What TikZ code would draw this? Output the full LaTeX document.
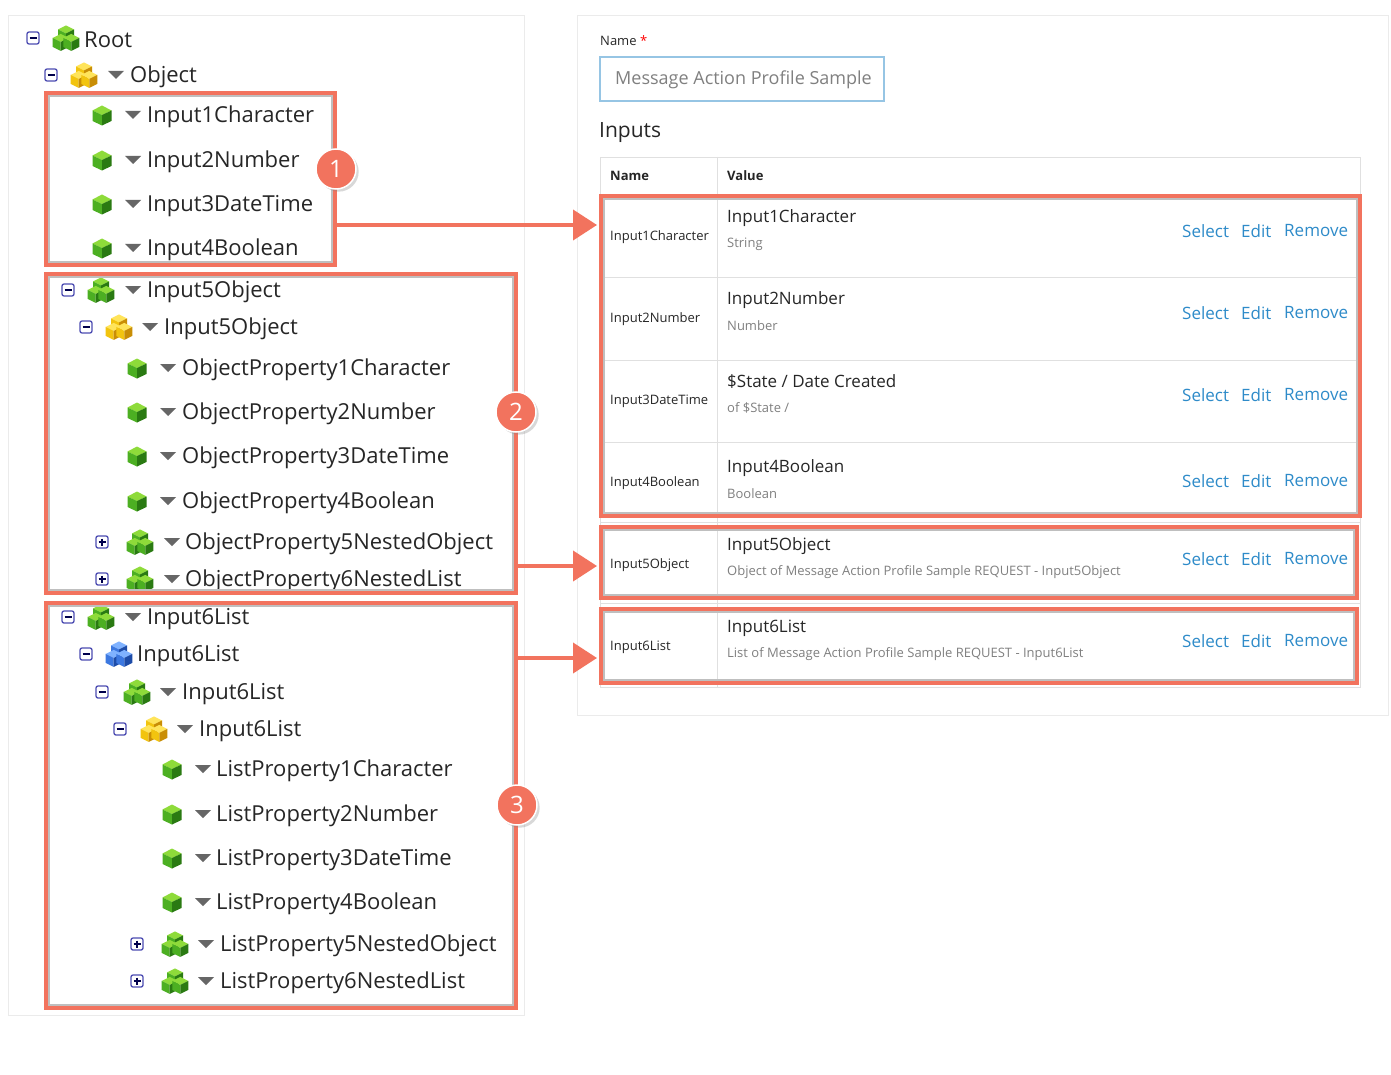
\documentclass[tikz,border=0pt]{standalone}
\usepackage{fontspec}
\setmainfont{Open Sans}
\usetikzlibrary{arrows.meta,shadows}
\definecolor{hl}{HTML}{F2735E}
\definecolor{lnk}{HTML}{2E8BC9}
\definecolor{gtop}{HTML}{8EDB3A}
\definecolor{gl}{HTML}{4CAF22}
\definecolor{gr}{HTML}{2A7A12}
\definecolor{ytop}{HTML}{FFE45A}
\definecolor{yl}{HTML}{F2C40F}
\definecolor{yr}{HTML}{C98E05}
\definecolor{btop}{HTML}{7FB2FF}
\definecolor{bl}{HTML}{3C78E0}
\definecolor{br}{HTML}{1D4CA8}
\tikzset{
 x=1pt,y=-1pt,
 cube/.pic={\fill[#1top] (-8,-4)--(0,-8)--(8,-4)--(0,0)--cycle;
   \fill[#1l] (-8,-4)--(0,0)--(0,9)--(-8,5)--cycle;
   \fill[#1r] (8,-4)--(0,0)--(0,9)--(8,5)--cycle;},
 bigcube/.pic={\fill[#1top] (-9.5,-4.5)--(0,-9.5)--(9.5,-4.5)--(0,0)--cycle;
   \fill[#1l] (-9.5,-4.5)--(0,0)--(0,10.5)--(-9.5,6)--cycle;
   \fill[#1r] (9.5,-4.5)--(0,0)--(0,10.5)--(9.5,6)--cycle;},
 cluster/.pic={\begin{scope}[scale=0.66]
   \pic at (0,-7) {cube=#1};\pic at (-8,6) {cube=#1};\pic at (8,6) {cube=#1};\end{scope}},
 tog/.pic={\draw[rounded corners=2pt,draw=blue!40!gray,fill=white,line width=1.3pt] (-6,-6) rectangle (6,6);
   \draw[line width=1.5pt,blue!30!black] (-3.5,0)--(3.5,0);},
 togp/.pic={\draw[rounded corners=2pt,draw=blue!40!gray,fill=white,line width=1.3pt] (-6,-6) rectangle (6,6);
   \draw[line width=1.5pt,blue!30!black] (-3.5,0)--(3.5,0) (0,-3.5)--(0,3.5);},
 tri/.pic={\fill[gray!80!black] (-8,-4)--(8,-4)--(0,4)--cycle;},
 tt/.style={anchor=west,font=\fontsize{22}{24}\selectfont,text=black!85,inner sep=0,yshift=-2pt},
 hlbox/.style={draw=hl,line width=3.5pt},
 shbox/.style={draw=black!25,line width=2pt},
 arr/.style={draw=hl,line width=4pt,-{Triangle[length=24pt,width=30pt]}},
 num/.style={circle,fill=hl,text=white,minimum size=40pt,inner sep=0,font=\fontsize{24}{24}\selectfont,draw=white,line width=1.5pt,drop shadow={opacity=0.3}},
 sm/.style={anchor=west,font=\fontsize{13}{14}\selectfont,inner sep=0,text=black!85},
 vt/.style={anchor=west,font=\fontsize{17}{18}\selectfont,inner sep=0,text=black!85},
 vs/.style={anchor=west,font=\fontsize{13}{14}\selectfont,inner sep=0,text=gray},
 lk/.style={anchor=west,font=\fontsize{17}{18}\selectfont,inner sep=0,text=lnk},
}
\newcommand{\trow}[7]{%
 \ifx n#2\else\pic at (#3,#1) {#2};\fi
 \pic at (#6,#1) {#4=#5};
 \ifx n#7\else\pic at (#7,#1) {tri};\fi}
\newcommand{\trr}[5]{%
 \node[sm] at (610,#2) {#3};
 \node[vt] at (727,#1+22) {#4};
 \node[vs] at (727,#1+48) {#5};
 \node[lk] at (1182,#1+35) {Select};
 \node[lk] at (1241,#1+35) {Edit};
 \node[lk] at (1284,#1+35) {Remove};}
\newcommand{\hlrect}[4]{%
 \draw[shbox] (#1+3,#2+3) rectangle (#3-3,#4-3);
 \draw[hlbox] (#1,#2) rectangle (#3,#4);}
\begin{document}
\begin{tikzpicture}
\useasboundingbox (0,0) rectangle (1391,1075);
\fill[white] (0,0) rectangle (1391,1075);
\draw[black!8] (8,15) rectangle (524,1015);
\draw[black!8] (577,15) rectangle (1388,715);
\trow{38}{tog}{33}{cluster}{g}{66}{n} \node[tt] (t0) at (84,38) {Root};
\trow{75}{tog}{51}{cluster}{y}{84}{116} \node[tt] (t1) at (130,75) {Object};
\trow{115}{n}{0}{bigcube}{g}{102}{133} \node[tt] (a1) at (147,115) {Input1Character};
\trow{160}{n}{0}{bigcube}{g}{102}{133} \node[tt] (a2) at (147,160) {Input2Number};
\trow{204}{n}{0}{bigcube}{g}{102}{133} \node[tt] (a3) at (147,204) {Input3DateTime};
\trow{248}{n}{0}{bigcube}{g}{102}{133} \node[tt] (a4) at (147,248) {Input4Boolean};
\trow{290}{tog}{68}{cluster}{g}{101}{133} \node[tt] (b0) at (147,290) {Input5Object};
\trow{327}{tog}{86}{cluster}{y}{119}{150} \node[tt] (b1) at (164,327) {Input5Object};
\trow{368}{n}{0}{bigcube}{g}{137}{168} \node[tt] (b2) at (182,368) {ObjectProperty1Character};
\trow{412}{n}{0}{bigcube}{g}{137}{168} \node[tt] (b3) at (182,412) {ObjectProperty2Number};
\trow{456}{n}{0}{bigcube}{g}{137}{168} \node[tt] (b4) at (182,456) {ObjectProperty3DateTime};
\trow{501}{n}{0}{bigcube}{g}{137}{168} \node[tt] (b5) at (182,501) {ObjectProperty4Boolean};
\trow{542}{togp}{102}{cluster}{g}{140}{172} \node[tt] (b6) at (185,542) {ObjectProperty5NestedObject};
\trow{579}{togp}{102}{cluster}{g}{140}{172} \node[tt] (b7) at (185,579) {ObjectProperty6NestedList};
\trow{617}{tog}{68}{cluster}{g}{101}{133} \node[tt] (c0) at (147,617) {Input6List};
\trow{654}{tog}{86}{cluster}{b}{119}{n} \node[tt] (c1) at (137,654) {Input6List};
\trow{692}{tog}{102}{cluster}{g}{137}{168} \node[tt] (c2) at (182,692) {Input6List};
\trow{729}{tog}{120}{cluster}{y}{154}{185} \node[tt] (c3) at (199,729) {Input6List};
\trow{769}{n}{0}{bigcube}{g}{172}{203} \node[tt] (c4) at (216,769) {ListProperty1Character};
\trow{814}{n}{0}{bigcube}{g}{172}{203} \node[tt] (c5) at (216,814) {ListProperty2Number};
\trow{858}{n}{0}{bigcube}{g}{172}{203} \node[tt] (c6) at (216,858) {ListProperty3DateTime};
\trow{902}{n}{0}{bigcube}{g}{172}{203} \node[tt] (c7) at (216,902) {ListProperty4Boolean};
\trow{944}{togp}{137}{cluster}{g}{175}{206} \node[tt] (c8) at (220,944) {ListProperty5NestedObject};
\trow{981}{togp}{137}{cluster}{g}{175}{206} \node[tt] (c9) at (220,981) {ListProperty6NestedList};
\hlrect{46}{93}{335}{265}
\hlrect{46}{274}{516}{593}
\hlrect{46}{603}{516}{1008}
\node[num] (n1) at (336,169) {1};
\node[num] (n2) at (516,412) {2};
\node[num] (n3) at (517,805) {3};
\node[sm] (nl) at (600,41) {Name \textcolor{red}{*}};
\draw[draw=lnk!50,line width=1.2pt] (600,57) rectangle (884,101);
\node[anchor=west,inner sep=0,font=\fontsize{18}{20}\selectfont,text=gray] (nm) at (615,80) {Message Action Profile Sample};
\node[anchor=west,inner sep=0,font=\fontsize{21}{22}\selectfont,text=black!85] (inp) at (599,133) {Inputs};
\draw[black!12] (600,157) rectangle (1360,687);
\draw[black!12] (717,157)--(717,687);
\foreach \y in {195,277,360,442,517,522,603}{\draw[black!12] (600,\y)--(1360,\y);}
\node[sm,font=\bfseries\fontsize{13}{14}\selectfont] (hn) at (610,176) {Name};
\node[sm,font=\bfseries\fontsize{13}{14}\selectfont] (hv) at (727,176) {Value};
\trr{196}{237}{Input1Character}{Input1Character}{String}
\trr{278}{319}{Input2Number}{Input2Number}{Number}
\trr{360}{401}{Input3DateTime}{\$State / Date Created}{of \$State /}
\trr{446}{483}{Input4Boolean}{Input4Boolean}{Boolean}
\trr{524}{565}{Input5Object}{Input5Object}{Object of Message Action Profile Sample REQUEST - Input5Object}
\trr{606}{647}{Input6List}{Input6List}{List of Message Action Profile Sample REQUEST - Input6List}
\hlrect{601}{196}{1360}{516}
\hlrect{601}{527}{1357}{598}
\hlrect{601}{609}{1357}{683}
\coordinate (e1) at (597,225); \coordinate (e2) at (597,566); \coordinate (e3) at (597,658);
\draw[arr] (335,225) -- (e1);
\draw[arr] (516,566) -- (e2);
\draw[arr] (516,658) -- (e3);
\end{tikzpicture}
\end{document}
